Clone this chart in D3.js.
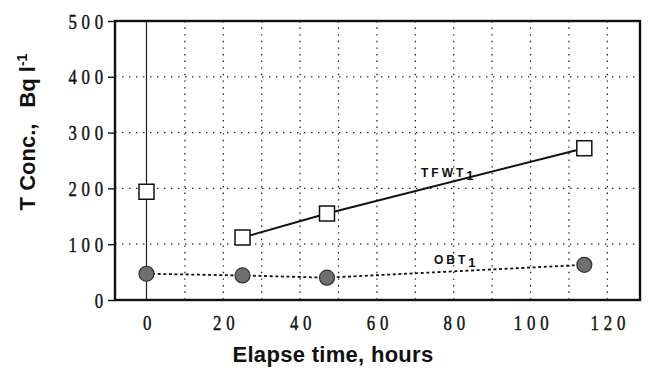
<!DOCTYPE html>
<html><head><meta charset="utf-8">
<script src="https://cdn.jsdelivr.net/npm/d3@7"></script>
<style>body{margin:0;background:#fff}</style>
</head><body>
<svg id="c" width="652" height="378"></svg>
<script>
// Data
const tfwtHours = [0, 25, 47, 114];
const tfwtValues = [194, 112, 155, 272];
const obtHours = [0, 25, 47, 114];
const obtValues = [47, 44, 40, 63];
const xTicks = [0, 20, 40, 60, 80, 100, 120];
const yTicks = [0, 100, 200, 300, 400, 500];
const xGrid = [10, 20, 30, 40, 50, 60, 70, 80, 90, 100, 110, 120];
const yGrid = [100, 200, 300, 400];

const svg = d3.select("#c");
const L = 115, R = 640, T = 21, B = 300;
const x = d3.scaleLinear().domain([-8.2, 128.5]).range([L, R]);
const y = d3.scaleLinear().domain([0, 500]).range([B, T]);

// gridlines
const g = svg.append("g");
g.selectAll(".vg").data(xGrid).join("line")
  .attr("x1", d => x(d)).attr("x2", d => x(d)).attr("y1", T).attr("y2", B)
  .attr("stroke", "#222").attr("stroke-width", 1.3).attr("stroke-dasharray", "1.4,5.2");
g.selectAll(".hg").data(yGrid).join("line")
  .attr("x1", L).attr("x2", R).attr("y1", d => y(d)).attr("y2", d => y(d))
  .attr("stroke", "#222").attr("stroke-width", 1.3).attr("stroke-dasharray", "1.4,5.6");

// solid line at x=0
svg.append("line").attr("x1", x(0)).attr("x2", x(0)).attr("y1", T).attr("y2", B)
  .attr("stroke", "#222").attr("stroke-width", 1.2);

// frame
svg.append("rect").attr("x", L).attr("y", T).attr("width", R - L).attr("height", B - T)
  .attr("fill", "none").attr("stroke", "#111").attr("stroke-width", 2.4);

// axes
const fontTick = "'Liberation Serif','DejaVu Serif',serif";
const yAxis = svg.append("g").attr("transform", `translate(${L},0)`)
  .call(d3.axisLeft(y).tickValues(yTicks).tickSize(7).tickPadding(4).tickFormat(d3.format("d")));
const xAxis = svg.append("g").attr("transform", `translate(0,${B})`)
  .call(d3.axisBottom(x).tickValues(xTicks).tickSize(0).tickPadding(0).tickFormat(d3.format("d")));
[yAxis, xAxis].forEach(a => {
  a.select(".domain").remove();
  a.selectAll("line").attr("stroke", "#111").attr("stroke-width", 1.4);
  a.selectAll("text").attr("font-family", fontTick).attr("font-size", 21)
    .attr("letter-spacing", "6px").attr("fill", "#111")
    .attr("stroke", "#111").attr("stroke-width", 0.45);
});
yAxis.selectAll("text").attr("x", 0).attr("dy", "0.34em")
  .attr("transform", "translate(-7,0) scale(0.8,1)").attr("text-anchor", "end");
xAxis.selectAll("text").attr("y", 0).attr("dy", 0)
  .attr("transform", "translate(2.5,30) scale(0.8,1)");

// series lines
const ptsT = tfwtHours.map((h, i) => [h, tfwtValues[i]]);
const ptsO = obtHours.map((h, i) => [h, obtValues[i]]);
const line = d3.line().x(d => x(d[0])).y(d => y(d[1]));
svg.append("path").attr("d", line(ptsT.slice(1))).attr("fill", "none")
  .attr("stroke", "#111").attr("stroke-width", 2);
svg.append("path").attr("d", line(ptsO)).attr("fill", "none")
  .attr("stroke", "#111").attr("stroke-width", 1.8).attr("stroke-dasharray", "3,2.6");

// markers
svg.selectAll(".sq").data(ptsT).join("rect")
  .attr("x", d => x(d[0]) - 7.5).attr("y", d => y(d[1]) - 7.5)
  .attr("width", 15).attr("height", 15)
  .attr("fill", "#fff").attr("stroke", "#111").attr("stroke-width", 1.5);
svg.selectAll(".ci").data(ptsO).join("circle")
  .attr("cx", d => x(d[0])).attr("cy", d => y(d[1])).attr("r", 7.5)
  .attr("fill", "#6f6f6f").attr("stroke", "#333").attr("stroke-width", 1.2);

// annotations
const lab = (tx, ty, main) => {
  const t = svg.append("text").attr("x", tx).attr("y", ty)
    .attr("font-family", "Arial, 'Liberation Sans', sans-serif").attr("font-weight", "bold")
    .attr("font-size", 12).attr("fill", "#111");
  t.append("tspan").attr("letter-spacing", "3px").text(main);
  t.append("tspan").attr("dy", 3).attr("font-size", 13).text("1");
};
lab(421, 177, "TFWT");
lab(434, 264, "OBT");

// axis titles
svg.append("text").attr("x", 333).attr("y", 362).attr("text-anchor", "middle")
  .attr("font-family", "Arial, 'Liberation Sans', sans-serif").attr("font-weight", "bold")
  .attr("font-size", 22).attr("letter-spacing", "0.3px").attr("fill", "#111").text("Elapse time, hours");
const yt = svg.append("text").attr("transform", "translate(35,132) rotate(-90)")
  .attr("text-anchor", "middle")
  .attr("font-family", "Arial, 'Liberation Sans', sans-serif").attr("font-weight", "bold")
  .attr("font-size", 22).attr("fill", "#111");
yt.append("tspan").text("T Conc.,");
yt.append("tspan").attr("dx", 16).text("Bq l");
yt.append("tspan").attr("dy", -8).attr("font-size", 14).text("-1");
</script>
</body></html>
